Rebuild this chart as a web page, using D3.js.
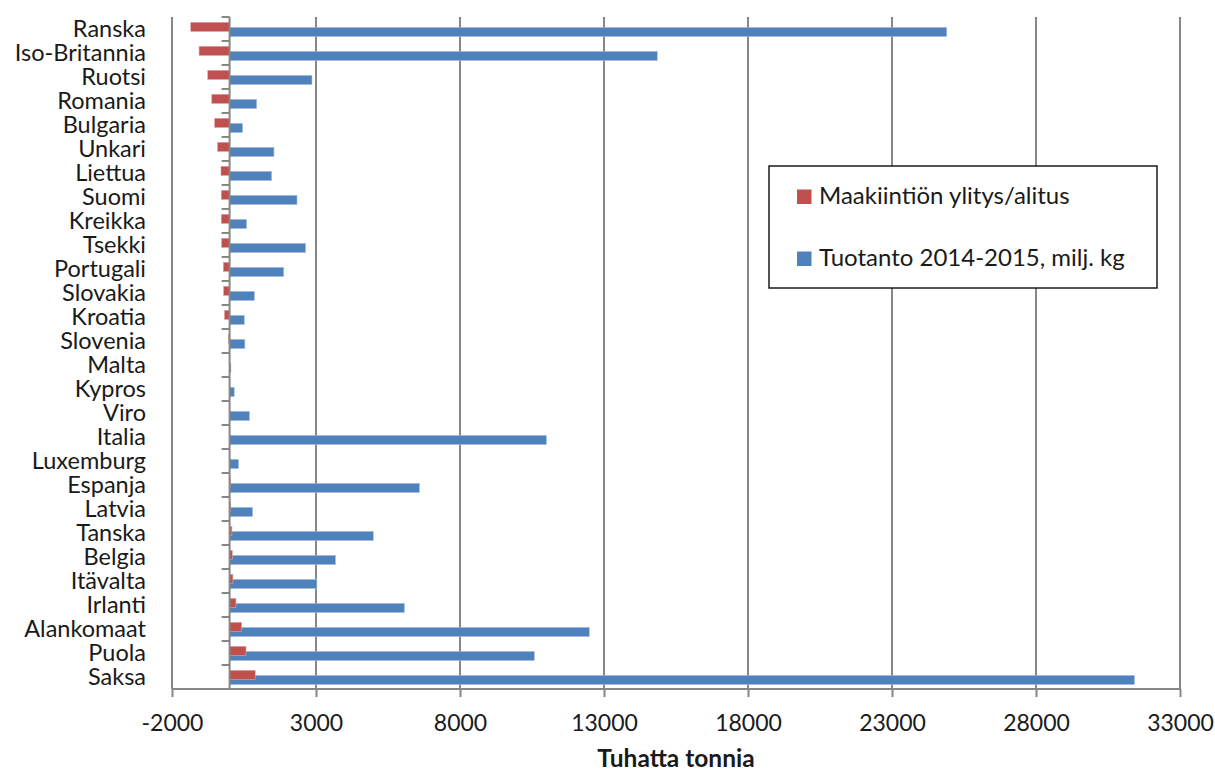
<!DOCTYPE html>
<html>
<head>
<meta charset="utf-8">
<script src="https://cdn.jsdelivr.net/npm/d3@7"></script>
<style>
  html, body { margin: 0; padding: 0; background: #fff; }
  svg { display: block; }
  text { font-family: Lato, "Open Sans", sans-serif; fill: #1a1a1a; }
</style>
</head>
<body>
<svg id="chart" width="1215" height="772"></svg>
<script>
// Countries, top to bottom
const countries = ["Ranska", "Iso-Britannia", "Ruotsi", "Romania", "Bulgaria", "Unkari",
  "Liettua", "Suomi", "Kreikka", "Tsekki", "Portugali", "Slovakia", "Kroatia", "Slovenia",
  "Malta", "Kypros", "Viro", "Italia", "Luxemburg", "Espanja", "Latvia", "Tanska", "Belgia",
  "Itävalta", "Irlanti", "Alankomaat", "Puola", "Saksa"];

// Production 2014-2015 (thousand tonnes)
const production = [24900, 14850, 2860, 940, 450, 1540, 1460, 2340, 590, 2640, 1880, 860,
  510, 530, 45, 160, 690, 11000, 310, 6590, 800, 4990, 3680, 3030, 6070, 12490, 10580, 31420];

// Quota over/under-run (thousand tonnes)
const quotaDiff = [-1350, -1060, -760, -620, -520, -420, -300, -290, -290, -280, -220, -210,
  -180, -40, 0, 0, 0, 0, 0, 30, 40, 80, 95, 115, 220, 420, 570, 890];

const xTicks = [-2000, 3000, 8000, 13000, 18000, 23000, 28000, 33000];

const seriesNames = ["Maakiintiön ylitys/alitus", "Tuotanto 2014-2015, milj. kg"];
const seriesColors = ["#C0504D", "#4F81BD"];

const svg = d3.select("#chart");
const plotLeft = 172, plotRight = 1180, plotTop = 17, plotBottom = 689;

const x = d3.scaleLinear().domain([-2000, 33000]).range([plotLeft, plotRight]);
const y = d3.scaleBand().domain(countries).range([plotTop, plotBottom]);
const bw = y.bandwidth();

const grid = "#878787";

// vertical gridlines
svg.append("g").selectAll("line").data(xTicks).join("line")
  .attr("x1", d => x(d)).attr("x2", d => x(d))
  .attr("y1", plotTop).attr("y2", plotBottom)
  .attr("stroke", grid).attr("stroke-width", 2);

// bottom axis
const xAxis = d3.axisBottom(x).tickValues(xTicks).tickSize(8).tickPadding(14)
  .tickFormat(d => String(d));
const gx = svg.append("g").attr("transform", `translate(0,${plotBottom})`).call(xAxis);
gx.select(".domain").attr("stroke", grid).attr("stroke-width", 2)
  .attr("d", `M${plotLeft},0H${plotRight}`);
gx.selectAll(".tick line").attr("stroke", grid).attr("stroke-width", 2);
gx.selectAll(".tick text")
  .attr("y", 42).attr("dy", null)
  .attr("font-size", 23).style("font-family", "Lato, sans-serif")
  .attr("fill", "#1a1a1a");

// bars: production (blue), then quota difference (red) on top
const rowOffsetBlue = 0.43 * bw, rowOffsetRed = 0.22 * bw, barH = 0.385 * bw;

svg.append("g").selectAll("rect").data(countries).join("rect")
  .attr("x", (d, i) => x(Math.min(0, production[i])))
  .attr("width", (d, i) => Math.abs(x(production[i]) - x(0)))
  .attr("y", d => y(d) + rowOffsetBlue)
  .attr("height", barH)
  .attr("fill", seriesColors[1])
  .attr("stroke", "#a8c3e4").attr("stroke-width", 0.6);

svg.append("g").selectAll("rect").data(countries).join("rect")
  .attr("x", (d, i) => x(Math.min(0, quotaDiff[i])))
  .attr("width", (d, i) => Math.abs(x(quotaDiff[i]) - x(0)))
  .attr("y", d => y(d) + rowOffsetRed)
  .attr("height", barH)
  .attr("fill", seriesColors[0])
  .attr("stroke", "#e3aaa8").attr("stroke-width", 0.6);

// category axis at zero
const bandEdges = countries.map(d => y(d));
const gy = svg.append("g");
gy.selectAll("line.cat").data(bandEdges).join("line")
  .attr("x1", x(0) - 8).attr("x2", x(0))
  .attr("y1", d => d).attr("y2", d => d)
  .attr("stroke", grid).attr("stroke-width", 2);
gy.append("line")
  .attr("x1", x(0)).attr("x2", x(0))
  .attr("y1", plotTop).attr("y2", plotBottom)
  .attr("stroke", grid).attr("stroke-width", 2);

// category labels
svg.append("g").selectAll("text").data(countries).join("text")
  .attr("x", 146)
  .attr("y", d => y(d) + bw / 2)
  .attr("dy", "0.35em")
  .attr("text-anchor", "end")
  .attr("font-size", 23.5)
  .text(d => d);

// axis title
svg.append("text")
  .attr("x", 676).attr("y", 767)
  .attr("text-anchor", "middle")
  .attr("font-size", 24.5)
  .attr("font-weight", "bold")
  .text("Tuhatta tonnia");

// legend
const lg = svg.append("g");
lg.append("rect")
  .attr("x", 769).attr("y", 166).attr("width", 388).attr("height", 122)
  .attr("fill", "#fff").attr("stroke", "#1a1a1a").attr("stroke-width", 1.5);
const legendRows = [0, 1];
lg.selectAll("rect.key").data(legendRows).join("rect")
  .attr("class", "key")
  .attr("x", 797).attr("y", d => 189.5 + d * 62)
  .attr("width", 14.5).attr("height", 14.5)
  .attr("fill", d => seriesColors[d]);
lg.selectAll("text").data(legendRows).join("text")
  .attr("x", 819).attr("y", d => 204 + d * 62)
  .attr("font-size", 24)
  .text(d => seriesNames[d]);
</script>
</body>
</html>
